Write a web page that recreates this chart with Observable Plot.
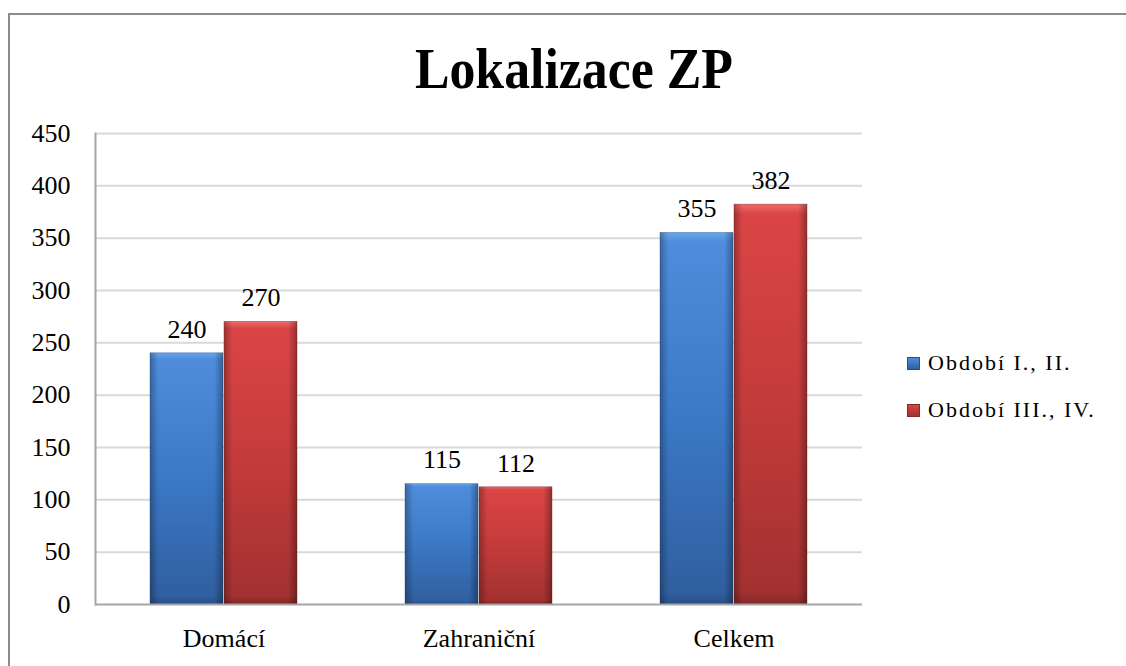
<!DOCTYPE html>
<html>
<head>
<meta charset="utf-8">
<script src="https://cdn.jsdelivr.net/npm/d3@7"></script>
<script src="https://cdn.jsdelivr.net/npm/@observablehq/plot@0.6"></script>
<style>
  .serif { font-family: 'Liberation Serif'; }
</style>
</head>
<body style="margin:0;font-family:'Liberation Serif'">
<div id="frame" style="position:absolute;left:8px;top:13px;width:1300px;height:800px;border-top:2px solid #8c8c8c;border-left:2px solid #8c8c8c;pointer-events:none"></div>
<div id="title" class="serif" style="font-family:'Liberation Serif';padding-top:41px;width:1148px;height:56px;line-height:56px;text-align:center;font-size:56px;font-weight:bold;color:#000"><span class="serif" style="font-family:'Liberation Serif';display:inline-block;transform:scaleX(0.925)">Lokalizace ZP</span></div>
<div id="chart" style="margin-top:13px"></div>
<div id="legend" class="serif" style="font-family:'Liberation Serif';position:absolute;left:907px;top:350px;font-size:22px;letter-spacing:2px;color:#000"></div>
<script>
const categories = ["Domácí", "Zahraniční", "Celkem"];
const seriesNames = ["Období I., II.", "Období III., IV."];
const valuesI = [240, 115, 355];
const valuesII = [270, 112, 382];
const yTicks = [0, 50, 100, 150, 200, 250, 300, 350, 400, 450];
const seriesColors = [
  ["#6aa6ee", "#4f8ddc", "#3b78c6", "#305f9f", "#284f85"],
  ["#ee6a6a", "#da4545", "#c43b3b", "#a33131", "#862828"]
];

const dataI = categories.map((c, i) => ({category: c, series: seriesNames[0], value: valuesI[i]}));
const dataII = categories.map((c, i) => ({category: c, series: seriesNames[1], value: valuesII[i]}));

const half = 74;
const font = "Liberation Serif";

const chart = Plot.plot({
  width: 1126,
  height: 556,
  marginLeft: 95,
  marginRight: 264,
  marginTop: 23,
  marginBottom: 62,
  style: {fontFamily: font, fontSize: "26px", color: "#000"},
  x: {domain: categories, paddingInner: 0.4224, paddingOuter: 0.2112, tickSize: 0, tickPadding: 24, label: null},
  y: {domain: [0, 450], ticks: yTicks, tickSize: 0, tickPadding: 25, label: null, tickFormat: d => String(d)},
  marks: [
    Plot.ruleY(yTicks.filter(d => d > 0), {stroke: "#d9d9d9", strokeWidth: 2}),
    Plot.barY(dataI, {x: "category", y: "value", fill: "url(#gBlue)", insetRight: half, stroke: "#2a5590", strokeOpacity: 0.5, strokeWidth: 0.8}),
    Plot.barY(dataI, {x: "category", y: "value", fill: "url(#gEdge)", insetRight: half}),
    Plot.barY(dataII, {x: "category", y: "value", fill: "url(#gRed)", insetLeft: half, stroke: "#7e2424", strokeOpacity: 0.5, strokeWidth: 0.8}),
    Plot.barY(dataII, {x: "category", y: "value", fill: "url(#gEdge)", insetLeft: half}),
    Plot.text(dataI, {x: "category", y: "value", text: d => String(d.value), dx: -37, dy: -24, fontSize: 26, fontFamily: font, fill: "#000"}),
    Plot.text(dataII, {x: "category", y: "value", text: d => String(d.value), dx: 37, dy: -24, fontSize: 26, fontFamily: font, fill: "#000"}),
    Plot.ruleY([0], {stroke: "#a6a6a6", strokeWidth: 2}),
    Plot.frame({anchor: "left", stroke: "#a6a6a6", strokeWidth: 2})
  ]
});

// gradient definitions inside the Plot svg
const defs = d3.select(chart).insert("defs", ":first-child");
[["gBlue", seriesColors[0]], ["gRed", seriesColors[1]]].forEach(([id, cols]) => {
  const g = defs.append("linearGradient").attr("id", id).attr("x1", 0).attr("y1", 0).attr("x2", 0).attr("y2", 1);
  [0, 0.025, 0.5, 0.97, 1].forEach((o, k) => g.append("stop").attr("offset", o).attr("stop-color", cols[k]));
});
const edge = defs.append("linearGradient").attr("id", "gEdge").attr("x1", 0).attr("y1", 0).attr("x2", 1).attr("y2", 0);
[[0, 0.28], [0.09, 0.06], [0.12, 0], [0.88, 0], [0.91, 0.08], [1, 0.32]].forEach(([o, a]) =>
  edge.append("stop").attr("offset", o).attr("stop-color", "#000").attr("stop-opacity", a));

document.getElementById("chart").appendChild(chart);

const legend = document.getElementById("legend");
seriesNames.forEach((name, i) => {
  const item = document.createElement("div");
  item.style.cssText = "position:relative;height:47px;line-height:26px;padding-left:21px;font-family:'Liberation Serif'";
  const sw = document.createElement("div");
  const c = seriesColors[i];
  sw.style.cssText = "position:absolute;left:0;top:7px;width:13px;height:13px;box-sizing:border-box;background:linear-gradient(" + c[1] + "," + c[3] + ");border:1px solid " + c[4];
  item.appendChild(sw);
  item.appendChild(document.createTextNode(name));
  legend.appendChild(item);
});
</script>
</body>
</html>
